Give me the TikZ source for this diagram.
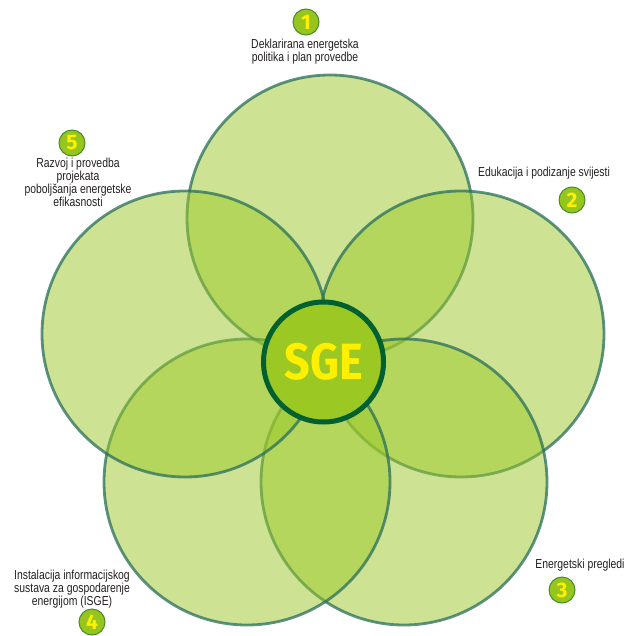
\documentclass[tikz,border=0pt]{standalone}
\usepackage{fontspec}
\setmainfont{Liberation Sans}
\newfontfamily\lblfont[FakeStretch=0.8]{Liberation Sans}
\newfontfamily\sgefont[FakeStretch=0.88]{Fira Sans}
\newfontfamily\numfont{Fira Sans}
\definecolor{petalfill}{RGB}{155,200,40}
\definecolor{petaledge}{RGB}{40,110,90}
\definecolor{sgefill}{RGB}{155,200,35}
\definecolor{sgeedge}{RGB}{0,96,48}
\definecolor{sgetext}{RGB}{255,240,0}
\definecolor{numfill}{RGB}{150,198,30}
\definecolor{numedge}{RGB}{70,140,40}
\definecolor{lbltext}{RGB}{35,31,32}
\tikzset{
  petal/.style={circle, minimum size=286pt, inner sep=0pt, fill=petalfill, fill opacity=0.5, draw=petaledge, draw opacity=0.75, line width=2.8pt},
  sgebox/.style={circle, minimum size=120pt, inner sep=0pt, fill=sgefill, draw=sgeedge, line width=5pt, text=sgetext, font=\sgefont\bfseries\fontsize{51}{51}\selectfont},
  numbox/.style={circle, minimum size=26pt, inner sep=0pt, fill=numfill, draw=numedge, line width=1pt, text=sgetext, font=\numfont\bfseries\fontsize{21}{21}\selectfont},
  lbl/.style={align=center, inner sep=0pt, text=lbltext, font=\lblfont\fontsize{13}{13}\selectfont}
}
\begin{document}
\begin{tikzpicture}[x=1pt,y=-1pt]
\useasboundingbox (0,0) rectangle (628,636);
\node[petal] (p1) at (330,218) {};
\node[petal] (p2) at (461,334) {};
\node[petal] (p3) at (404,482) {};
\node[petal] (p4) at (247,482) {};
\node[petal] (p5) at (185,334) {};
\node[sgebox] (sge) at (323.5,362) {SGE};
\node[numbox] (n1) at (306,22) {1};
\node[numbox] (n2) at (572,200) {2};
\node[numbox] (n3) at (562,590) {3};
\node[numbox] (n4) at (92,622) {4};
\node[numbox] (n5) at (72,143) {5};
\node[lbl] (l1) at (305,52) {Deklarirana energetska\\politika i plan provedbe};
\node[lbl] (l2) at (544,173) {Edukacija i podizanje svijesti};
\node[lbl] (l3) at (580,565) {Energetski pregledi};
\node[lbl] (l4) at (72,589) {Instalacija informacijskog\\sustava za gospodarenje\\energijom (ISGE)};
\node[lbl] (l5) at (78,182) {Razvoj i provedba\\projekata\\poboljšanja energetske\\efikasnosti};
\end{tikzpicture}
\end{document}
